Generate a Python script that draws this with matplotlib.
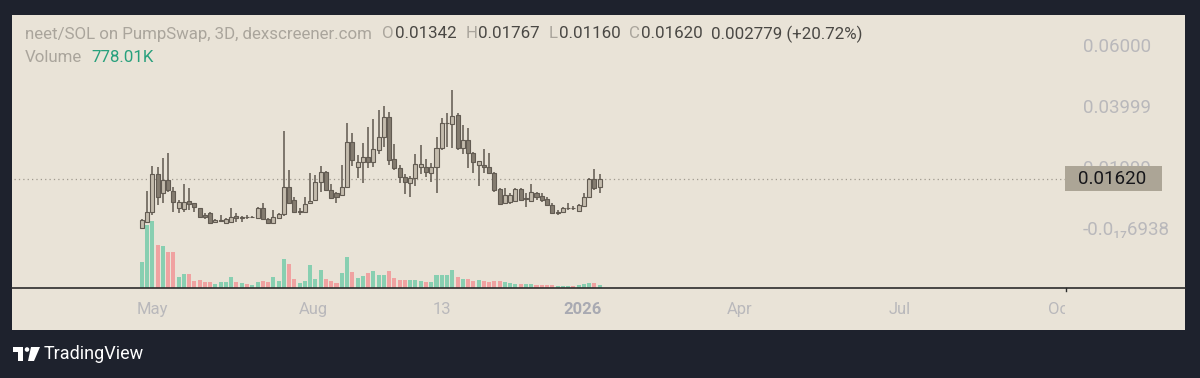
import numpy as np
import pandas as pd
import matplotlib
matplotlib.use('Agg')
import matplotlib.pyplot as plt
import matplotlib.dates as mdates
from matplotlib.patches import Polygon, Ellipse, Rectangle
from matplotlib.lines import Line2D
from matplotlib.transforms import blended_transform_factory

plt.rcParams['font.family'] = ['Roboto', 'DejaVu Sans']

# 3D candles, neet/SOL
dates = pd.date_range('2025-04-25', periods=88, freq='3D')

opens = [0.0001, 0.0021, 0.0054, 0.0176, 0.0114, 0.0157, 0.0121, 0.0065, 0.0061, 0.0090,
         0.0081, 0.0065, 0.0043, 0.0050, 0.0021, 0.0024, 0.0018, 0.0021, 0.0039, 0.0034,
         0.0037, 0.0035, 0.0034, 0.0065, 0.0028, 0.0018, 0.0032, 0.0046, 0.0133, 0.0092,
         0.0054, 0.0054, 0.0081, 0.0092, 0.0152, 0.0185, 0.0125, 0.0114, 0.0108, 0.0133,
         0.0283, 0.0201, 0.0218, 0.0232, 0.0218, 0.0256, 0.0299, 0.0363, 0.0225, 0.0196,
         0.0168, 0.0149, 0.0163, 0.0201, 0.0201, 0.0181, 0.0199, 0.0261, 0.0343, 0.0341,
         0.0370, 0.0263, 0.0289, 0.0245, 0.0207, 0.0207, 0.0201, 0.0181, 0.0127, 0.0081,
         0.0086, 0.0090, 0.0127, 0.0094, 0.0090, 0.0116, 0.0105, 0.0094, 0.0075, 0.0050,
         0.0054, 0.0065, 0.0067, 0.0057, 0.0072, 0.0101, 0.0160, 0.01342]
highs = [0.0028, 0.0121, 0.0203, 0.0199, 0.0228, 0.0245, 0.0136, 0.0092, 0.0144, 0.0130,
         0.0083, 0.0066, 0.0048, 0.0054, 0.0028, 0.0043, 0.0032, 0.0065, 0.0050, 0.0039,
         0.0043, 0.0039, 0.0068, 0.0083, 0.0032, 0.0059, 0.0048, 0.0319, 0.0190, 0.0101,
         0.0065, 0.0101, 0.0181, 0.0174, 0.0203, 0.0188, 0.0144, 0.0119, 0.0207, 0.0343,
         0.0310, 0.0239, 0.0280, 0.0332, 0.0356, 0.0387, 0.0400, 0.0379, 0.0275, 0.0207,
         0.0177, 0.0171, 0.0243, 0.0272, 0.0225, 0.0212, 0.0297, 0.0360, 0.0376, 0.0452,
         0.0376, 0.0338, 0.0327, 0.0250, 0.0220, 0.0258, 0.0245, 0.0185, 0.0130, 0.0130,
         0.0114, 0.0130, 0.0130, 0.0114, 0.0144, 0.0119, 0.0114, 0.0103, 0.0083, 0.0059,
         0.0070, 0.0083, 0.0072, 0.0079, 0.0116, 0.0163, 0.0192, 0.01767]
lows = [0.0000, 0.0015, 0.0043, 0.0075, 0.0081, 0.0119, 0.0054, 0.0050, 0.0054, 0.0059,
        0.0054, 0.0035, 0.0028, 0.0015, 0.0018, 0.0021, 0.0015, 0.0018, 0.0021, 0.0021,
        0.0028, 0.0032, 0.0032, 0.0026, 0.0015, 0.0015, 0.0028, 0.0039, 0.0079, 0.0050,
        0.0043, 0.0050, 0.0079, 0.0090, 0.0119, 0.0122, 0.0094, 0.0081, 0.0106, 0.0130,
        0.0203, 0.0163, 0.0146, 0.0196, 0.0199, 0.0243, 0.0267, 0.0207, 0.0190, 0.0146,
        0.0111, 0.0103, 0.0138, 0.0177, 0.0168, 0.0152, 0.0116, 0.0256, 0.0267, 0.0261,
        0.0256, 0.0243, 0.0196, 0.0179, 0.0138, 0.0179, 0.0177, 0.0119, 0.0075, 0.0079,
        0.0079, 0.0086, 0.0090, 0.0070, 0.0086, 0.0092, 0.0086, 0.0072, 0.0048, 0.0043,
        0.0050, 0.0059, 0.0059, 0.0054, 0.0068, 0.0097, 0.0125, 0.01160]
closes = [0.0026, 0.0054, 0.0176, 0.0103, 0.0157, 0.0125, 0.0086, 0.0086, 0.0086, 0.0079,
          0.0068, 0.0037, 0.0035, 0.0018, 0.0026, 0.0026, 0.0028, 0.0035, 0.0032, 0.0037,
          0.0035, 0.0037, 0.0065, 0.0028, 0.0018, 0.0035, 0.0046, 0.0133, 0.0081, 0.0054,
          0.0057, 0.0079, 0.0090, 0.0152, 0.0185, 0.0125, 0.0097, 0.0101, 0.0133, 0.0283,
          0.0223, 0.0218, 0.0232, 0.0218, 0.0258, 0.0299, 0.0363, 0.0223, 0.0196, 0.0168,
          0.0152, 0.0163, 0.0210, 0.0210, 0.0185, 0.0199, 0.0261, 0.0343, 0.0345, 0.0367,
          0.0261, 0.0289, 0.0245, 0.0218, 0.0220, 0.0199, 0.0181, 0.0125, 0.0079, 0.0108,
          0.0108, 0.0127, 0.0092, 0.0097, 0.0119, 0.0103, 0.0092, 0.0075, 0.0050, 0.0052,
          0.0065, 0.0067, 0.0065, 0.0075, 0.0101, 0.0160, 0.0130, 0.01620]
# volume in millions
volumes = [7.4, 18.2, 19.5, 12.6, 12.1, 10.4, 10.4, 3.1, 4.1, 4.2,
           2.1, 2.2, 1.6, 1.7, 1.3, 1.6, 1.6, 3.2, 1.6, 1.4,
           1.2, 0.8, 1.6, 1.9, 1.6, 3.1, 1.9, 8.4, 7.1, 2.7,
           1.5, 1.9, 6.6, 2.7, 5.2, 2.6, 2.1, 1.5, 4.4, 8.9,
           4.6, 2.9, 3.4, 4.4, 5.0, 3.9, 3.7, 5.0, 2.9, 2.2,
           2.2, 2.4, 2.4, 2.1, 1.6, 1.6, 3.9, 3.9, 3.9, 5.3,
           3.1, 2.7, 2.7, 2.1, 2.4, 1.9, 1.6, 2.1, 1.9, 1.6,
           1.5, 1.3, 1.2, 1.2, 1.3, 0.8, 0.8, 0.8, 1.0, 0.7,
           0.6, 0.6, 0.6, 0.8, 1.2, 1.4, 1.4, 0.778]

price_ticks = [0.06, 0.04, 0.02, 0.0]
price_labels = ['0.06000', '0.03999', '0.01999', '-0.0₁₇6938']
time_ticks = ['2025-05-01', '2025-08-01', '2025-10-13', '2026-01-01',
              '2026-04-01', '2026-07-01', '2026-10-01']
time_labels = ['May', 'Aug', '13', '2026', 'Apr', 'Jul', 'Oct']
last_price = 0.01620

BG = '#1e222d'
PANEL = '#e9e3d7'
GRAY = '#aaa59c'
DARK = '#4a4844'
GREEN = '#27a07c'
AXTXT = '#b9b8bb'

W, H = 1200, 378
def fx(x):
    return x / W
def fy(y):
    return 1 - y / H

fig = plt.figure(figsize=(12, 3.78), dpi=100)
fig.patch.set_facecolor(BG)

panel = fig.add_axes([fx(12), fy(330), fx(1185) - fx(12), fy(15) - fy(330)])
panel.set_facecolor(PANEL)
panel.set_xticks([])
panel.set_yticks([])
for s in panel.spines.values():
    s.set_visible(False)
panel.set_zorder(0)

rect = [fx(14), fy(288), fx(1065) - fx(14), fy(15) - fy(288)]
vax = fig.add_axes(rect)
ax = fig.add_axes(rect, sharex=vax)
for a, z in ((vax, 1), (ax, 2)):
    a.set_facecolor('none')
    a.set_zorder(z)
    for s in a.spines.values():
        s.set_visible(False)

x = mdates.date2num(dates.to_pydatetime())
o, h, l, c = (np.array(v) for v in (opens, highs, lows, closes))
up = c >= o

# volume
vax.bar(x, volumes, width=2.3, color=np.where(up, '#88cfb1', '#f0a2a1'), linewidth=0)
vax.set_ylim(0, 79.2)
vax.set_yticks([])
vax.tick_params(axis='x', length=0, labelbottom=False)

# candles
ax.vlines(x, l, h, color='#5f584f', lw=1.1, zorder=2)
ax.bar(x, np.maximum(np.abs(c - o), 0.00015), bottom=np.minimum(o, c), width=2.3,
       color=np.where(up, '#c4bcad', '#847c70'), edgecolor='#625b52', linewidth=0.8, zorder=3)

x0 = mdates.date2num(pd.Timestamp('2025-04-25').to_pydatetime())
ax.set_xlim(x0 - 72.8, x0 + 526.2)
ax.set_ylim(-0.01967, 0.06984)

ax.axhline(last_price, color='#9f998f', lw=0.9, ls=(0, (1, 2.5)), zorder=1)

ax.yaxis.tick_right()
ax.set_yticks(price_ticks)
ax.set_yticklabels(price_labels)
ax.tick_params(axis='y', length=0, pad=13, labelsize=13.5, labelcolor=AXTXT)
ax.tick_params(axis='x', length=0, labelbottom=False)

blend = blended_transform_factory(ax.transAxes, ax.transData)
ax.add_patch(Rectangle((1.0, last_price - 0.0042), 0.0923, 0.0084, transform=blend,
                       facecolor='#aca596', edgecolor='none', clip_on=False, zorder=9))
ax.text(1.0124, last_price, '0.01620', transform=blend, va='center', ha='left',
        fontsize=13.5, color='#16161a', clip_on=False, zorder=10)

# time axis
tax = fig.add_axes([fx(14), fy(330), fx(1065) - fx(14), fy(288) - fy(330)], sharex=vax)
tax.set_facecolor('none')
tax.set_zorder(1)
tax.set_yticks([])
tax.tick_params(axis='x', length=0, labelbottom=False)
for s in tax.spines.values():
    s.set_visible(False)
tblend = blended_transform_factory(tax.transData, tax.transAxes)
for d, lab in zip(time_ticks, time_labels):
    bold = lab == '2026'
    tax.text(mdates.date2num(pd.Timestamp(d).to_pydatetime()), 0.48, lab, transform=tblend,
             ha='center', va='center', fontsize=12, clip_on=True,
             color='#a9aab2' if bold else AXTXT, fontweight='bold' if bold else 'normal')

# axis line
fig.add_artist(Line2D([fx(12), fx(1185)], [fy(288), fy(288)], transform=fig.transFigure,
                      color='#2c2c2c', lw=1.2))
fig.add_artist(Line2D([fx(1066), fx(1066)], [fy(288), fy(291)], transform=fig.transFigure,
                      color='#2c2c2c', lw=1.0))

# header
renderer = fig.canvas.get_renderer()
def seg_line(y, parts, xpos=25, size=12.2):
    for text, color, gap in parts:
        t = fig.text(fx(xpos), fy(y), text, color=color, fontsize=size, va='center', ha='left')
        xpos += t.get_window_extent(renderer).width + gap

seg_line(34, [('neet/SOL on PumpSwap, 3D, dexscreener.com', GRAY, 10),
              ('O', GRAY, 1), ('0.01342', DARK, 9),
              ('H', GRAY, 1), ('0.01767', DARK, 9),
              ('L', GRAY, 1), ('0.01160', DARK, 9),
              ('C', GRAY, 1), ('0.01620', DARK, 8),
              ('0.002779 (+20.72%)', DARK, 0)])
seg_line(58, [('Volume', GRAY, 9), ('778.01K', GREEN, 0)])

# TradingView footer
fig.add_artist(Polygon([(fx(13), fy(347)), (fx(23), fy(347)), (fx(23), fy(361)),
                        (fx(18), fy(361)), (fx(18), fy(352)), (fx(13), fy(352))],
                       closed=True, transform=fig.transFigure, facecolor='white', edgecolor='none'))
fig.add_artist(Ellipse((fx(27), fy(349.5)), 4.6 / W, 4.6 / H, transform=fig.transFigure,
                       facecolor='white', edgecolor='none'))
fig.add_artist(Polygon([(fx(31), fy(347)), (fx(40), fy(347)), (fx(34), fy(361)), (fx(28), fy(361))],
                       closed=True, transform=fig.transFigure, facecolor='white', edgecolor='none'))
fig.text(fx(44), fy(354), 'TradingView', color='white', fontsize=13, va='center', ha='left')

fig.savefig('out.png', dpi=100, facecolor=BG)
